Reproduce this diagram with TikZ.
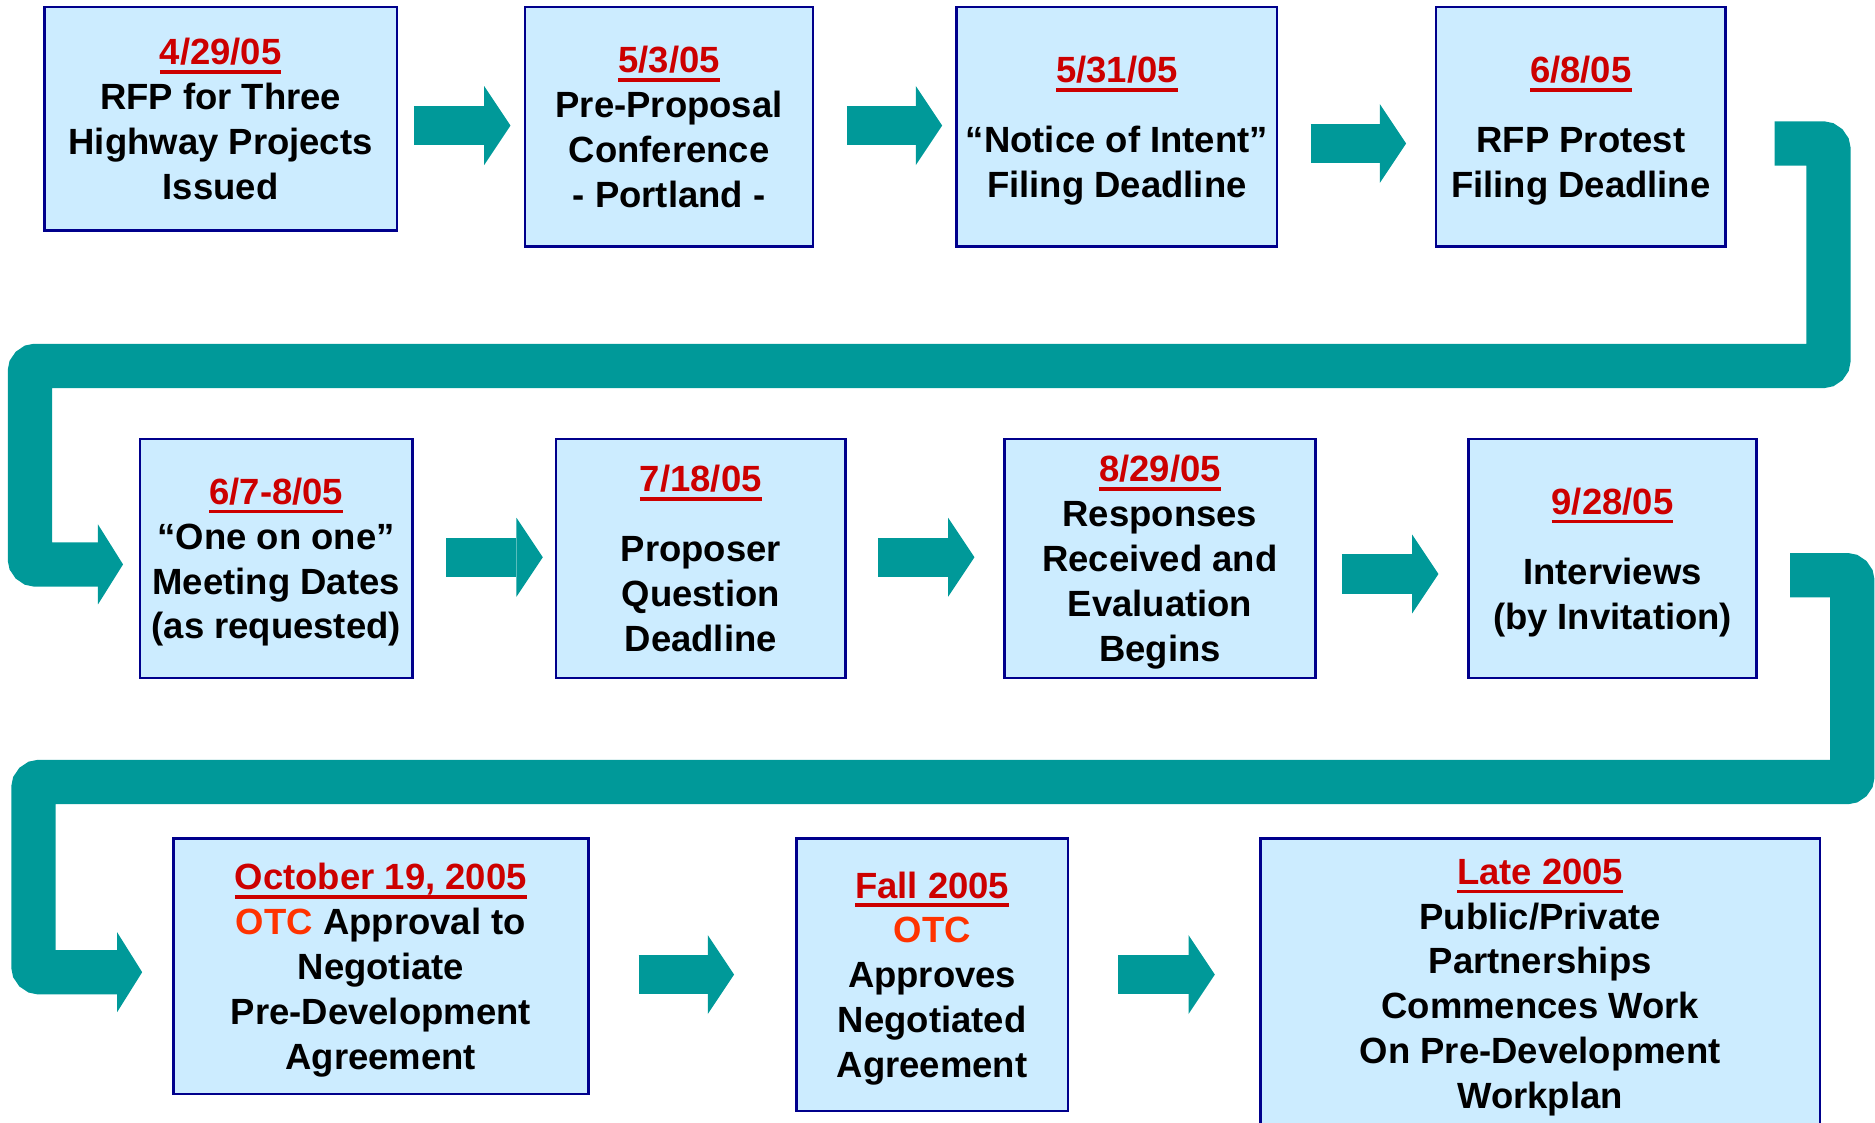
\documentclass[tikz,border=0pt]{standalone}
\usepackage{fontspec}
\setmainfont{Liberation Sans}
\usetikzlibrary{arrows.meta,calc}

\definecolor{boxfill}{RGB}{204,236,255}
\definecolor{boxline}{RGB}{0,0,140}
\definecolor{flowteal}{RGB}{0,153,153}
\definecolor{datered}{RGB}{204,0,0}
\definecolor{otcred}{RGB}{255,51,0}

% red date with its thick underline
\newcommand{\datetxt}[1]{{\color{datered}\setbox0\hbox{#1}\rlap{\vrule height -4.5pt depth 7.5pt width \wd0}\box0}}

\tikzset{every picture/.style={line width=0.75pt}}
\tikzset{
  stepbox/.style={draw=boxline, fill=boxfill, line width=2.2pt, inner sep=0pt, align=center, text depth=0pt,
    font=\bfseries\fontsize{30.5}{37.5}\selectfont},
  blockarrow/.style={draw=flowteal, line width=33pt, -{Triangle[length=22pt, width=66pt, line width=0pt]}},
  bandarrow/.style={draw=flowteal, line width=37pt, rounded corners=5pt, -{Triangle[length=21pt, width=67pt, line width=0pt]}},
}

\begin{document}
\begin{tikzpicture}[x=1pt,y=1pt,yscale=-1,xscale=1]
		\useasboundingbox (0,0) rectangle (1568,939);

		%Shape: Rectangle [row 1]
		\node[stepbox, minimum width=295pt, minimum height=187pt] (b1) at (184.5,99.5) {\datetxt{4/29/05}\\RFP for Three\\Highway Projects\\Issued};
		\node[stepbox, minimum width=241pt, minimum height=200pt] (b2) at (559.5,106) {\datetxt{5/3/05}\\Pre-Proposal\\Conference\\- Portland -};
		\node[stepbox, minimum width=268pt, minimum height=200pt] (b3) at (934,106) {\datetxt{5/31/05}\\[21pt]“Notice of Intent”\\Filing Deadline};
		\node[stepbox, minimum width=242pt, minimum height=200pt] (b4) at (1322,106) {\datetxt{6/8/05}\\[21pt]RFP Protest\\Filing Deadline};
		%Shape: Rectangle [row 2]
		\node[stepbox, minimum width=228pt, minimum height=200pt] (b5) at (231,467) {\datetxt{6/7-8/05}\\“One on one”\\Meeting Dates\\(as requested)};
		\node[stepbox, minimum width=242pt, minimum height=200pt] (b6) at (586,467) {\datetxt{7/18/05}\\[21pt]Proposer\\Question\\Deadline};
		\node[stepbox, minimum width=260pt, minimum height=200pt] (b7) at (970,467) {\datetxt{8/29/05}\\Responses\\Received and\\Evaluation\\Begins};
		\node[stepbox, minimum width=241pt, minimum height=200pt] (b8) at (1348.5,467) {\datetxt{9/28/05}\\[21pt]Interviews\\(by Invitation)};
		%Shape: Rectangle [row 3]
		\node[stepbox, minimum width=347pt, minimum height=214pt] (b9) at (318.5,808) {\datetxt{October 19, 2005}\\{\color{otcred}OTC} Approval to\\Negotiate\\Pre-Development\\Agreement};
		\node[stepbox, minimum width=227pt, minimum height=228pt] (b10) at (779.5,815) {\datetxt{Fall 2005}\\{\color{otcred}OTC}\\Approves\\Negotiated\\Agreement};
		\node[stepbox, minimum width=468pt, minimum height=243pt] (b11) at (1288,822.5) {\datetxt{Late 2005}\\Public/Private\\Partnerships\\Commences Work\\On Pre-Development\\Workplan};

		%Right Arrow
		\draw[blockarrow] ($(b1.east)+(13,5.5)$) -- ($(b2.west)+(-11,-1)$);
		\draw[blockarrow] ($(b2.east)+(27,-1)$) -- ($(b3.west)+(-11,-1)$);
		\draw[blockarrow] ($(b3.east)+(27,14)$) -- ($(b4.west)+(-24,14)$);
		\draw[blockarrow] ($(b5.east)+(27,-1)$) -- ($(b6.west)+(-10,-1)$);
		\draw[blockarrow] ($(b6.east)+(26,-1)$) -- ($(b7.west)+(-24,-1)$);
		\draw[blockarrow] ($(b7.east)+(21,13)$) -- ($(b8.west)+(-24,13)$);
		\draw[blockarrow] ($(b9.east)+(41,7)$) -- ($(b10.west)+(-51,0)$);
		\draw[blockarrow] ($(b10.east)+(41,0)$) -- ($(b11.west)+(-37,-7.5)$);

		%Bent Arrow [row 1 to row 2]
		\coordinate (bendA) at (1529,306);
		\coordinate (bendB) at (25,472);
		\draw[bandarrow] ($(b4.east)+(40,14)$) -| (bendA) -| (bendB) -- ($(b5.west)+(-13,5)$);
		%Bent Arrow [row 2 to row 3]
		\coordinate (bendC) at (1549,654);
		\coordinate (bendD) at (28,813);
		\draw[bandarrow] ($(b8.east)+(27,14)$) -| (bendC) -| (bendD) -- ($(b9.west)+(-25,5)$);

\end{tikzpicture}
\end{document}
